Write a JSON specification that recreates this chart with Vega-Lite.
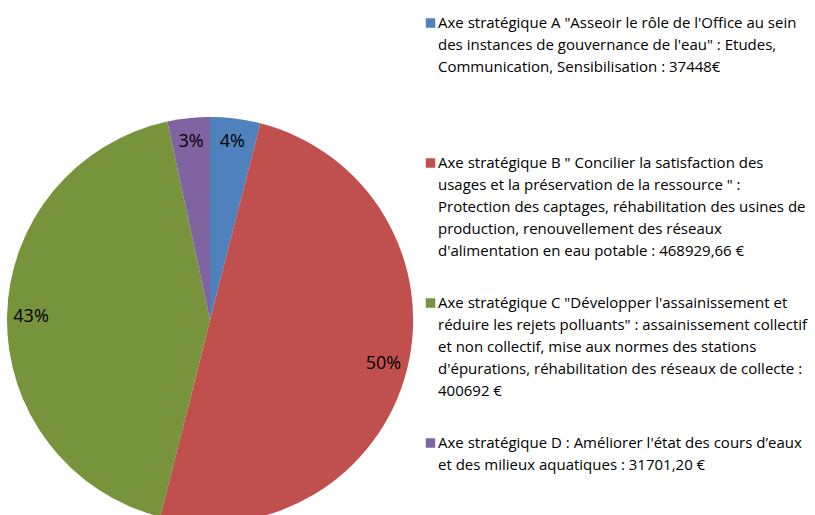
{
  "$schema": "https://vega.github.io/schema/vega-lite/v6.json",
  "width": 420,
  "height": 640,
  "autosize": {"type": "pad"},
  "padding": 0,
  "background": "white",
  "view": {"stroke": null},
  "data": {
    "values": [
      {"axe": "Axe stratégique A \"Asseoir le rôle de l'Office au sein\ndes instances de gouvernance de l'eau\" : Etudes,\nCommunication, Sensibilisation : 37448€", "montant": 37448},
      {"axe": "Axe stratégique B \" Concilier la satisfaction des\nusages et la préservation de la ressource \" :\nProtection des captages, réhabilitation des usines de\nproduction, renouvellement des réseaux\nd'alimentation en eau potable : 468929,66 €", "montant": 468929.66},
      {"axe": "Axe stratégique C \"Développer l'assainissement et\nréduire les rejets polluants\" : assainissement collectif\net non collectif, mise aux normes des stations\nd'épurations, réhabilitation des réseaux de collecte  :\n400692 €", "montant": 400692},
      {"axe": "Axe stratégique D : Améliorer l'état des cours d’eaux\net des milieux aquatiques : 31701,20 €", "montant": 31701.20}
    ]
  },
  "encoding": {
    "theta": {"field": "montant", "type": "quantitative", "stack": true},
    "order": {"field": "axe", "type": "ordinal", "sort": "ascending"}
  },
  "layer": [
    {
      "mark": {"type": "arc", "outerRadius": 203},
      "encoding": {
        "color": {
          "field": "axe",
          "type": "nominal",
          "scale": {"range": ["#4F81BD", "#C0504D", "#77933C", "#8064A2"]},
          "legend": {
            "orient": "none",
            "legendX": 423,
            "legendY": 12,
            "title": null,
            "padding": 0,
            "rowPadding": 0,
            "clipHeight": 140,
            "labelExpr": "split(datum.label, '\\n')",
            "labelFont": "Open Sans",
            "labelFontSize": 15,
            "labelColor": "#000000",
            "labelLimit": 0,
            "labelOffset": 0,
            "symbolType": "square",
            "symbolSize": 90,
            "symbolStrokeWidth": 0,
            "symbolOpacity": 1,
            "encode": {
              "labels": {"update": {"y": {"value": 16}, "baseline": {"value": "alphabetic"}, "lineHeight": {"value": 22}}},
              "symbols": {"update": {"y": {"value": 11}}}
            }
          }
        }
      }
    },
    {
      "transform": [
        {"joinaggregate": [{"op": "sum", "field": "montant", "as": "total"}]},
        {"calculate": "datum.montant / datum.total", "as": "part"}
      ],
      "mark": {"type": "text", "radius": 179, "font": "Open Sans", "fontSize": 18, "color": "#000000"},
      "encoding": {
        "text": {"field": "part", "type": "quantitative", "format": ".0%"},
        "detail": {"field": "axe"}
      }
    }
  ]
}
